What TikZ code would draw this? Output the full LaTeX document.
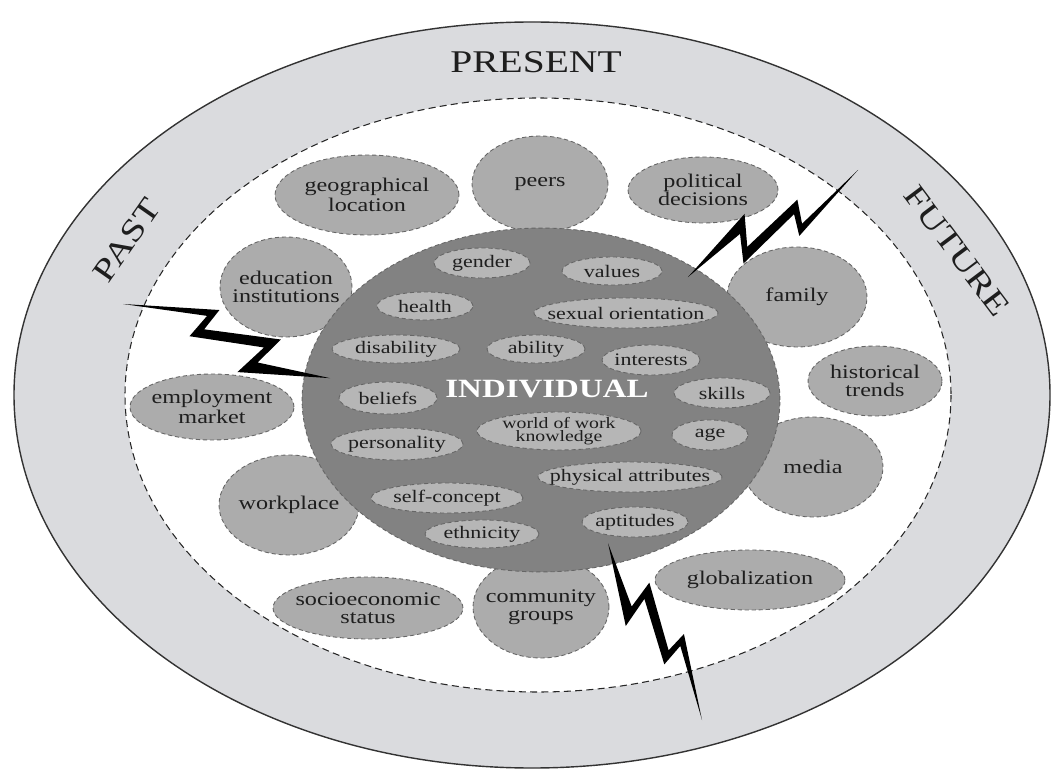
\documentclass[tikz,border=0pt]{standalone}
\usepackage{fontspec}
\setmainfont{Liberation Serif}[FakeStretch=1.25]
\usetikzlibrary{shapes, positioning}
\definecolor{ringgray}{RGB}{218,219,222}
\definecolor{satgray}{RGB}{172,172,172}
\definecolor{coregray}{RGB}{130,130,130}
\definecolor{pillgray}{RGB}{182,182,182}
\definecolor{inkgray}{RGB}{30,30,30}
\tikzset{ring/.style = {
  draw=black!80, line width=0.8pt, fill=ringgray
  }}
\tikzset{zone/.style = {
  draw=black!85, line width=0.6pt, dash pattern=on 4pt off 2.4pt, fill=white
  }}
\tikzset{blob/.style 2 args = {
  % Ellipse:
  ellipse, draw=black!60, line width=0.5pt, dash pattern=on 2.4pt off 1.6pt,
  minimum width=#1*0.04cm, minimum height=#2*0.04cm, inner sep=-1cm,
  % Text
  text=inkgray, align=center
  }}
\tikzset{sat/.style 2 args = {
  blob={#1}{#2}, fill=satgray, font=\fontsize{11}{10}\selectfont
  }}
\tikzset{pill/.style 2 args = {
  blob={#1}{#2}, fill=pillgray, font=\fontsize{10}{8}\selectfont
  }}
\tikzset{core/.style = {
  blob={239}{172}, fill=coregray
  }}
\tikzset{era/.style = {
  text=inkgray, font=\fontsize{18}{20}\selectfont
  }}
\tikzset{bolt/.pic = {
  \fill[black] (0,0) -- (0.422,-0.122) -- (0.386,-0.016) -- (0.730,-0.090) -- (0.666,0.044) -- (1,0)
    -- (0.594,0.116) -- (0.670,-0.030) -- (0.334,0.036) -- (0.378,-0.078) -- cycle;
  }}

\begin{document}
\begin{tikzpicture}[x=0.02cm, y=-0.02cm]
\useasboundingbox (0,0) rectangle (1061,776);

% RINGS
\path[ring] (532,395) ellipse [x radius=518, y radius=373];
\path[zone] (538,395) ellipse [x radius=413, y radius=297];

\node (present) [era] at (536,62) {PRESENT};
\node (past) [era, rotate=55] at (127,240) {PAST};
\node (future) [era, rotate=-53] at (957,251) {FUTURE};

% NODES
\node (geo) [sat={92}{40}] at (367,195) {geographical\\location};
\node (peers) [sat={68}{48}] at (540,184) {peers};
\node (politics) [sat={75}{33}] at (703,190) {political\\decisions};
\node (education) [sat={66}{50}] at (286,287) {education\\institutions};
\node (family) [sat={70}{50}] at (797,297) {family};
\node (history) [sat={67}{35}] at (875,381) {historical\\trends};
\node (employment) [sat={82}{33}] at (212,407) {employment\\market};
\node (media) [sat={70}{50}] at (813,467) {media};
\node (workplace) [sat={70}{50}] at (289,505) {workplace};
\node (global) [sat={95}{30}] at (750,580) {globalization};
\node (socio) [sat={95}{31}] at (368,608) {socioeconomic\\status};
\node (community) [sat={68}{51}] at (541,607) {community\\groups};

\node (individual) [core] at (541,400) {};
\node (indlabel) [text=white, font=\fontsize{15}{18}\selectfont\bfseries] at (547,389) {INDIVIDUAL};

\node (gender) [pill={48}{15}] at (482,263) {gender};
\node (values) [pill={50}{14}] at (612,271) {values};
\node (health) [pill={48}{14}] at (425,306) {health};
\node (sexual) [pill={92}{15}] at (626,313) {sexual orientation};
\node (disability) [pill={64}{14}] at (396,349) {disability};
\node (ability) [pill={49}{14}] at (536,349) {ability};
\node (interests) [pill={49}{15}] at (651,360) {interests};
\node (beliefs) [pill={49}{16}] at (388,398) {beliefs};
\node (skills) [pill={48}{15}] at (722,393) {skills};
\node (wowk) [pill={82}{19}, font=\fontsize{9}{7.5}\selectfont] at (559,431) {world of work\\knowledge};
\node (age) [pill={38}{15}] at (710,435) {age};
\node (personality) [pill={66}{16}] at (397,444) {personality};
\node (physical) [pill={92}{15}] at (630,477) {physical attributes};
\node (selfconcept) [pill={76}{15}] at (447,498) {self-concept};
\node (aptitudes) [pill={53}{15}] at (635,522) {aptitudes};
\node (ethnicity) [pill={57}{14}] at (482,534) {ethnicity};

% bolts
\coordinate (pastcut) at (123,304);
\coordinate (futurecut) at (858,170);
\coordinate (presentcut) at (702,720);
\pic[rotate=-19.7, scale=220] at (pastcut) {bolt};
\pic[rotate=-147.8, scale=201] at (futurecut) {bolt};
\pic[rotate=118, yscale=-1, scale=200] at (presentcut) {bolt};
\end{tikzpicture}
\end{document}
